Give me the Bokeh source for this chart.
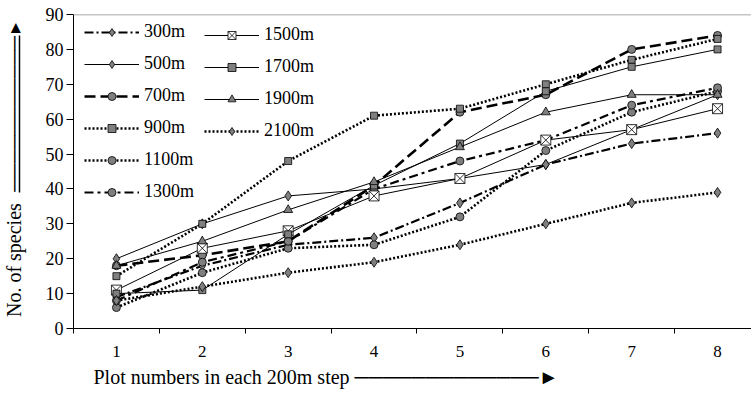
from bokeh.plotting import figure
from bokeh.models import (Range1d, FixedTicker, Legend, LegendItem, Span, Title, LinearAxis)
from bokeh.embed import file_html
from bokeh.resources import INLINE

plots = [1, 2, 3, 4, 5, 6, 7, 8]
x_tick_labels = ["1", "2", "3", "4", "5", "6", "7", "8"]
y_ticks = [0, 10, 20, 30, 40, 50, 60, 70, 80, 90]

names = ["300m", "500m", "700m", "900m", "1100m", "1300m", "1500m", "1700m", "1900m", "2100m"]
s300 = [9, 18, 24, 26, 36, 47, 53, 56]
s500 = [20, 30, 38, 40, 43, 47, 57, 67]
s700 = [18, 21, 25, 41, 62, 67, 80, 84]
s900 = [15, 30, 48, 61, 63, 70, 77, 83]
s1100 = [6, 16, 23, 24, 32, 51, 62, 68]
s1300 = [8, 19, 25, 40, 48, 54, 64, 69]
s1500 = [11, 23, 28, 38, 43, 54, 57, 63]
s1700 = [10, 11, 27, 41, 53, 68, 75, 80]
s1900 = [18, 25, 34, 42, 52, 62, 67, 67]
s2100 = [8, 12, 16, 19, 24, 30, 36, 39]
series = [s300, s500, s700, s900, s1100, s1300, s1500, s1700, s1900, s2100]

x_title = "Plot numbers in each 200m step " + "\u2500" * 13 + "\u25ba"
y_title = "No. of species"
y_shaft = "\u2500" * 11
y_head = "\u25b8"

FONT = "Liberation Serif"
GRAY = "#7f7f7f"

# style per series: (dash, width, marker, size, fill)
styles = [
    ("9 3 2 3", 2.2, "diamond", 10, GRAY),
    ("solid", 1, "diamond", 10, GRAY),
    ("11 5", 2.6, "circle", 8, GRAY),
    ("2 2", 2.6, "square", 7, GRAY),
    ("2 2", 2.6, "circle", 8, GRAY),
    ("9 4 3 4", 2.2, "circle", 8, GRAY),
    ("solid", 1, "square_x", 10, "white"),
    ("solid", 1, "square", 7, GRAY),
    ("solid", 1, "triangle", 9, GRAY),
    ("2 2", 2.6, "diamond", 10, GRAY),
]

W, H = 751, 394
p = figure(width=W, height=H, output_backend="svg", toolbar_location=None,
           x_range=Range1d(0.5, 0.5 + 679 / 86.0), y_range=Range1d(0, 90),
           min_border_left=72, min_border_right=0, min_border_top=14,
           min_border_bottom=66)
p.outline_line_color = None
p.xgrid.visible = False
p.ygrid.visible = False
p.background_fill_color = "white"

xa = p.xaxis[0]
ya = p.yaxis[0]
xa.ticker = FixedTicker(ticks=plots,
                        minor_ticks=[0.5, 1.5, 2.5, 3.5, 4.5, 5.5, 6.5, 7.5, 8.5])
xa.major_label_overrides = {i: t for i, t in zip(plots, x_tick_labels)}
xa.major_tick_out = 0
xa.major_tick_in = 0
xa.minor_tick_out = 5
xa.minor_tick_in = 0
xa.major_label_standoff = 12
ya.ticker = FixedTicker(ticks=y_ticks, minor_ticks=[])
ya.major_tick_out = 7
ya.major_tick_in = 0
ya.minor_tick_out = 0
ya.minor_tick_in = 0
ya.major_label_standoff = 3
for ax in (xa, ya):
    ax.axis_line_color = "black"
    ax.major_tick_line_color = "black"
    ax.minor_tick_line_color = "black"
    ax.major_label_text_font = FONT
    ax.major_label_text_color = "black"
xa.major_label_text_font_size = "17px"
ya.major_label_text_font_size = "18px"
# blank axis label only to reserve room, pushing the title column outward
ya.axis_label = "\u00a0"
ya.axis_label_text_font_size = "20px"
ya.axis_label_standoff = -2

# title column: rotated tick labels of a second left axis (text, arrow shaft, arrow head)
title_axis = LinearAxis(bounds=(39.0, 84.0),
                        ticker=FixedTicker(ticks=[19.6, 61.5, 86], minor_ticks=[]),
                        major_label_overrides={19.6: y_title, 61.5: y_shaft, 86: y_head},
                        major_label_orientation="vertical",
                        major_tick_out=0, major_tick_in=0, minor_tick_out=0, minor_tick_in=0,
                        major_label_standoff=-6, major_label_text_font=FONT,
                        major_label_text_font_size="20px", major_label_text_color="black",
                        axis_line_color="black", axis_line_width=1.5)
p.add_layout(title_axis, "left")

p.add_layout(Title(text=x_title, align="left", offset=20, standoff=8,
                   text_font=FONT, text_font_size="20px", text_font_style="normal",
                   text_color="black"), "below")

p.add_layout(Span(location=90, dimension="width", line_color="#8c8c8c", line_width=1.5))

items = []
for name, vals, (dash, lw, marker, size, fill) in zip(names, series, styles):
    lr = p.line(plots, vals, line_color="black", line_width=lw, line_dash=dash)
    sr = p.scatter(plots, vals, marker=marker, size=size, fill_color=fill,
                   line_color="black", line_width=0.8)
    items.append(LegendItem(label=name, renderers=[lr, sr]))

def mk_legend(its, loc):
    return Legend(items=its, location=loc, orientation="vertical",
                  background_fill_alpha=0, border_line_color=None,
                  padding=0, margin=0, spacing=11, glyph_height=20, label_height=20,
                  glyph_width=55, label_standoff=5,
                  label_text_font=FONT, label_text_font_size="18px",
                  label_text_color="black")

p.add_layout(mk_legend(items[:6], (11, 126)))
p.add_layout(mk_legend(items[6:], (131, 187)))

open("out.html", "w").write(file_html(p, INLINE))
